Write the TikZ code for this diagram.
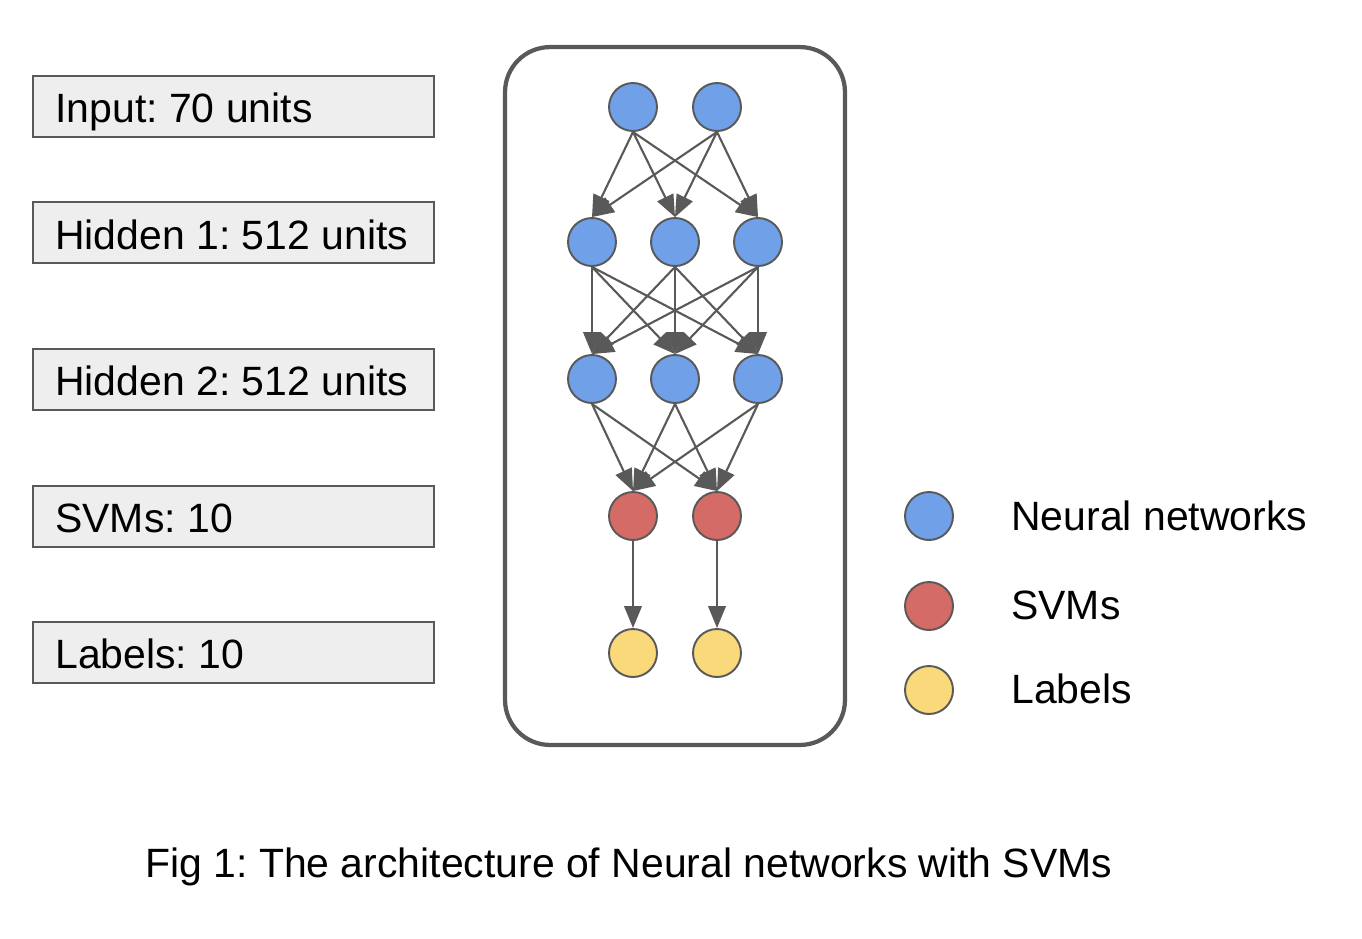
\documentclass[tikz,border=0pt]{standalone}
\usepackage{fontspec}
\setmainfont{Liberation Sans}
\usetikzlibrary{arrows.meta}
\definecolor{nnblue}{HTML}{6FA0E8}
\definecolor{svmred}{HTML}{D46B67}
\definecolor{lblyellow}{HTML}{F9D97A}
\definecolor{edgegray}{HTML}{595959}
\definecolor{boxfill}{HTML}{EEEEEE}
\tikzset{
  neuron/.style={circle, draw=edgegray, line width=1.1pt, minimum size=0.96cm, inner sep=0pt},
  nn/.style={neuron, fill=nnblue},
  svm/.style={neuron, fill=svmred},
  lbl/.style={neuron, fill=lblyellow},
  layerbox/.style={draw=edgegray, line width=0.9pt, fill=boxfill, minimum width=8.02cm, minimum height=1.22cm, inner sep=0pt},
  conn/.style={draw=edgegray, line width=1.2pt, -{Triangle[length=12.5pt,width=10pt]}},
  txt/.style={anchor=base west, inner sep=0pt, font=\fontsize{23.3}{27}\selectfont\frenchspacing},
  frame/.style={draw=edgegray, line width=2.4pt, rounded corners=0.9cm, minimum width=6.8cm, minimum height=13.96cm, inner sep=0pt}
}
\begin{document}
\begin{tikzpicture}[x=0.02cm, y=-0.02cm]
\useasboundingbox (0,0) rectangle (1362,938);
% layer boxes
\node[layerbox] (b1) at (233.5,106.5) {};
\node[layerbox] (b2) at (233.5,232.5) {};
\node[layerbox] (b3) at (233.5,379.5) {};
\node[layerbox] (b4) at (233.5,516.5) {};
\node[layerbox] (b5) at (233.5,652.5) {};
\node[txt] (bt1) at (55,122) {Input: 70 units};
\node[txt] (bt2) at (55,249) {Hidden 1: 512 units};
\node[txt] (bt3) at (55,395) {Hidden 2: 512 units};
\node[txt] (bt4) at (55,532) {SVMs: 10};
\node[txt] (bt5) at (55,668) {Labels: 10};
% frame
\node[frame] (fr) at (675,396) {};
% neurons
\node[nn] (i1) at (633,107) {};
\node[nn] (i2) at (717,107) {};
\node[nn] (h1) at (592,242) {};
\node[nn] (h2) at (675,242) {};
\node[nn] (h3) at (758,242) {};
\node[nn] (g1) at (592,379) {};
\node[nn] (g2) at (675,379) {};
\node[nn] (g3) at (758,379) {};
\node[svm] (s1) at (633,516) {};
\node[svm] (s2) at (717,516) {};
\node[lbl] (l1) at (633,653) {};
\node[lbl] (l2) at (717,653) {};
% connections
\foreach \a in {i1,i2}{\foreach \b in {h1,h2,h3}{\draw[conn] (\a.south) -- (\b.north);}}
\foreach \a in {h1,h2,h3}{\foreach \b in {g1,g2,g3}{\draw[conn] (\a.south) -- (\b.north);}}
\foreach \a in {g1,g2,g3}{\foreach \b in {s1,s2}{\draw[conn] (\a.south) -- (\b.north);}}
\draw[conn] (s1.south) -- (l1.north);
\draw[conn] (s2.south) -- (l2.north);
% legend
\node[nn] (k1) at (929,516) {};
\node[svm] (k2) at (929,606) {};
\node[lbl] (k3) at (929,690) {};
\node[txt] (t1) at (1011,530) {Neural networks};
\node[txt] (t2) at (1011,619) {SVMs};
\node[txt] (t3) at (1011,703) {Labels};
% caption
\node[txt] (cap) at (145,877) {Fig 1: The architecture of Neural networks with SVMs};
\end{tikzpicture}
\end{document}
